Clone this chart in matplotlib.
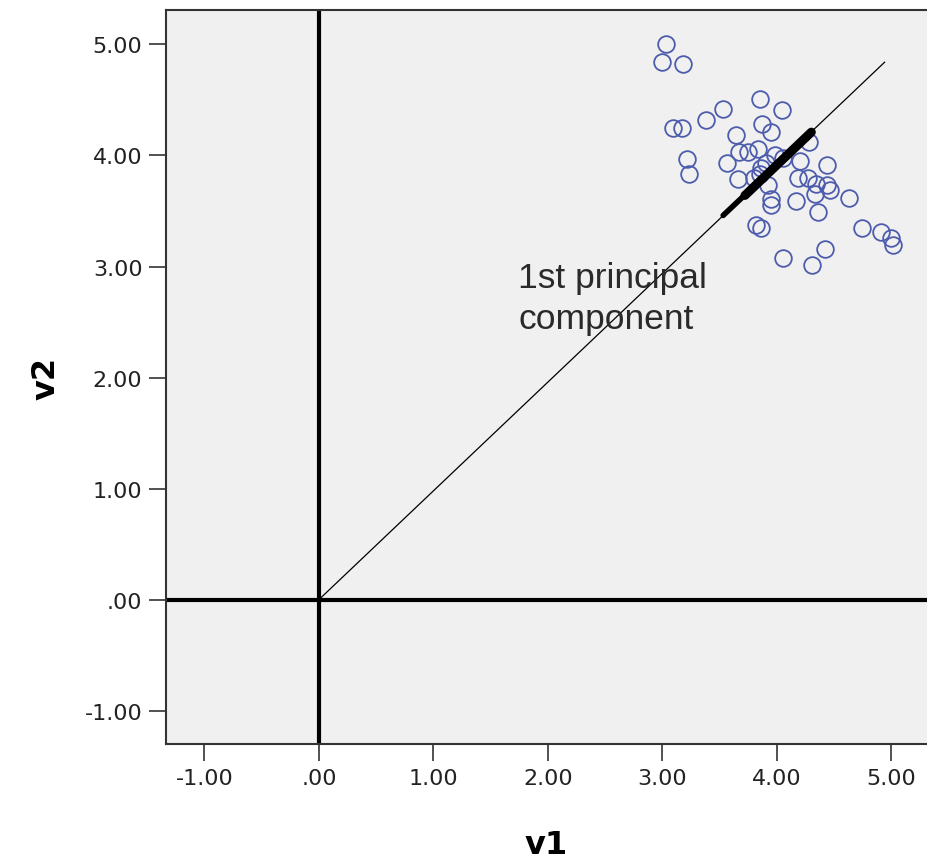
import matplotlib
matplotlib.use("Agg")
import matplotlib.pyplot as plt

# ---- data ----
v1 = [3.03, 3.00, 3.18, 3.85, 4.04, 3.53, 3.38, 3.09, 3.17, 3.87, 3.95, 3.64,
      4.28, 3.21, 3.23, 3.56, 3.67, 3.75, 3.83, 3.98, 3.66, 3.85, 3.86, 3.92,
      4.20, 4.18, 4.27, 4.44, 4.34, 4.44, 4.46, 4.33, 4.63, 4.17, 3.95, 3.95,
      4.36, 3.82, 3.86, 4.74, 4.91, 5.00, 5.01, 4.05, 4.42, 4.31, 3.80, 3.90,
      4.05]
v2 = [5.00, 4.84, 4.82, 4.51, 4.41, 4.42, 4.32, 4.25, 4.25, 4.28, 4.21, 4.18,
      4.12, 3.97, 3.83, 3.93, 4.03, 4.03, 4.06, 4.00, 3.79, 3.83, 3.89, 3.73,
      3.95, 3.80, 3.80, 3.91, 3.74, 3.73, 3.69, 3.65, 3.62, 3.59, 3.61, 3.55,
      3.49, 3.37, 3.35, 3.35, 3.31, 3.26, 3.19, 3.08, 3.16, 3.01, 3.80, 3.93,
      3.98]

pc_x = [0.0, 4.94]
pc_y = [0.0, 4.84]
seg_thin_x = [3.53, 4.30]
seg_thin_y = [3.46, 4.21]
seg_thick_x = [3.72, 4.30]
seg_thick_y = [3.64, 4.21]

tick_vals = [-1, 0, 1, 2, 3, 4, 5]
tick_labels = ["-1.00", ".00", "1.00", "2.00", "3.00", "4.00", "5.00"]

# ---- figure ----
fig = plt.figure(figsize=(9.27, 8.62), dpi=100)
fig.patch.set_facecolor("white")
ax = fig.add_axes([166 / 927, 117 / 862, 761 / 927, 734 / 862])
ax.set_facecolor("#f0f0f0")

ax.set_xlim(-1.335, 5.31)
ax.set_ylim(-1.30, 5.31)

ax.axhline(0, color="black", lw=3.0, zorder=2)
ax.axvline(0, color="black", lw=3.0, zorder=2)

ax.plot(v1, v2, linestyle="none", marker="o", markersize=12,
        markerfacecolor="none", markeredgecolor="#4d5cac",
        markeredgewidth=1.3, zorder=3)

ax.plot(pc_x, pc_y, color="black", lw=0.9, zorder=4)
ax.plot(seg_thin_x, seg_thin_y, color="black", lw=4.0,
        solid_capstyle="round", zorder=5)
ax.plot(seg_thick_x, seg_thick_y, color="black", lw=6.5,
        solid_capstyle="round", zorder=5)

ax.text(1.74, 3.05, "1st principal\ncomponent", fontsize=25.5,
        color="#2a2a2a", ha="left", va="top", linespacing=1.3,
        family="Liberation Sans", zorder=6)

ax.set_xticks(tick_vals)
ax.set_xticklabels(tick_labels)
ax.set_yticks(tick_vals)
ax.set_yticklabels(tick_labels)
ax.tick_params(axis="both", length=12, width=1.2, color="#333333",
               labelsize=16, labelcolor="#222222", pad=5)
for lab in ax.get_xticklabels() + ax.get_yticklabels():
    lab.set_family("DejaVu Sans")

for side in ["left", "bottom", "top"]:
    ax.spines[side].set_color("#333333")
    ax.spines[side].set_linewidth(1.5)
ax.spines["right"].set_visible(False)

ax.set_xlabel("v1", fontsize=23, fontweight="bold", labelpad=30)
ax.set_ylabel("v2", fontsize=23, fontweight="bold", labelpad=17)

fig.savefig("out.png", dpi=100)
